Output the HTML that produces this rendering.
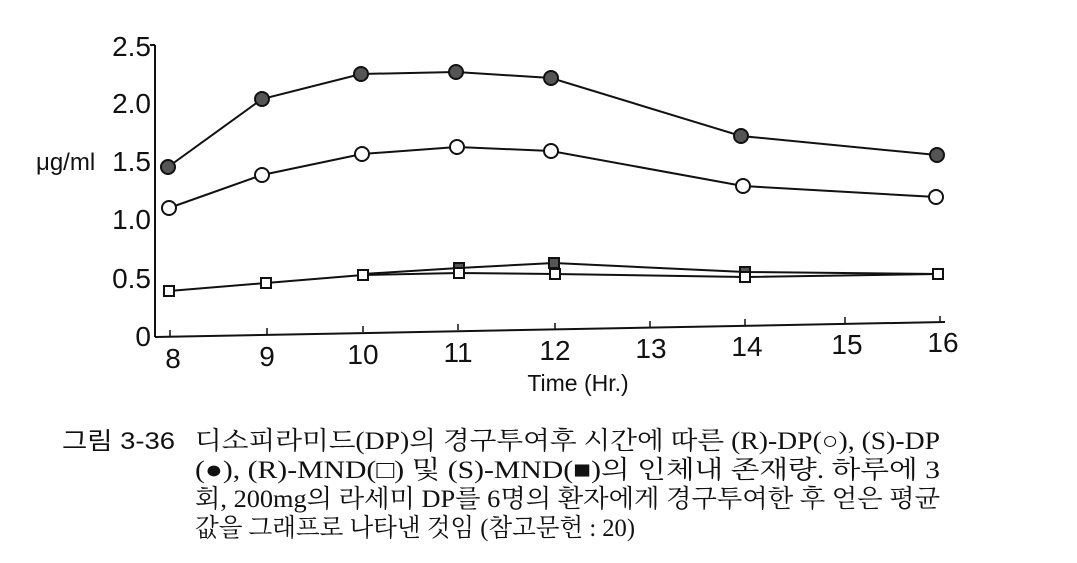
<!DOCTYPE html>
<html><head><meta charset="utf-8"><style>
body{margin:0;background:#fff;width:1077px;height:563px;overflow:hidden;position:relative}
</style></head><body>
<svg width="1077" height="563" style="position:absolute;left:0;top:0">
<g font-family="Liberation Sans, DejaVu Sans, sans-serif" font-size="28" fill="#111" text-anchor="end">
<text x="151" y="56">2.5</text><text x="151" y="113">2.0</text><text x="151" y="171">1.5</text>
<text x="151" y="229">1.0</text><text x="151" y="288">0.5</text><text x="151" y="346">0</text>
</g>
<text x="36" y="170" font-family="Liberation Sans, sans-serif" font-size="24" fill="#111">μg/ml</text>
<g font-family="Liberation Sans, DejaVu Sans, sans-serif" font-size="28" fill="#111" text-anchor="middle">
<text x="173" y="368">8</text><text x="267" y="366">9</text><text x="363" y="364">10</text><text x="458" y="362">11</text><text x="555" y="360">12</text><text x="651" y="358">13</text><text x="747" y="356">14</text><text x="847" y="354">15</text><text x="943" y="352">16</text>
</g>
<text x="578" y="391" font-family="Liberation Sans, sans-serif" font-size="23" fill="#111" text-anchor="middle">Time (Hr.)</text>
<g stroke="#111" stroke-width="2" fill="none">
<line x1="155" y1="45" x2="155" y2="337"/>
<line x1="155" y1="337" x2="945" y2="322"/>
<line x1="150" y1="45" x2="155" y2="45"/>
<g stroke-width="1.5"><line x1="170" y1="336" x2="170" y2="330"/><line x1="267" y1="334" x2="267" y2="328"/><line x1="363" y1="332" x2="363" y2="326"/><line x1="458" y1="330" x2="458" y2="324"/><line x1="555" y1="329" x2="555" y2="323"/><line x1="650" y1="327" x2="650" y2="321"/><line x1="745" y1="325" x2="745" y2="319"/><line x1="845" y1="323" x2="845" y2="317"/><line x1="940" y1="322" x2="940" y2="316"/></g>
<polyline points="168,167 262,99 361,74 456,72 551,78 741,136 937,155"/>
<polyline points="169,208 262,175 362,154 457,147 551,151 743,186 936,197"/>
<polyline points="169,291 266,283 363,275 459,273 555,274 745,277 938,274"/>
<polyline points="363,274 459,268 554,263 745,272 938,274"/>
</g>
<g stroke="#111" stroke-width="2">
<g fill="#555"><circle cx="168" cy="167" r="7"/><circle cx="262" cy="99" r="7"/><circle cx="361" cy="74" r="7"/><circle cx="456" cy="72" r="7"/><circle cx="551" cy="78" r="7"/><circle cx="741" cy="136" r="7"/><circle cx="937" cy="155" r="7"/></g>
<g fill="#fff"><circle cx="169" cy="208" r="7"/><circle cx="262" cy="175" r="7"/><circle cx="362" cy="154" r="7"/><circle cx="457" cy="147" r="7"/><circle cx="551" cy="151" r="7"/><circle cx="743" cy="186" r="7"/><circle cx="936" cy="197" r="7"/></g>
<g fill="#555"><rect x="454" y="263" width="10" height="10"/><rect x="549" y="258" width="10" height="10"/><rect x="740" y="267" width="10" height="10"/></g>
<g fill="#fff"><rect x="164" y="286" width="10" height="10"/><rect x="261" y="278" width="10" height="10"/><rect x="358" y="270" width="10" height="10"/><rect x="454" y="268" width="10" height="10"/><rect x="550" y="269" width="10" height="10"/><rect x="740" y="272" width="10" height="10"/><rect x="933" y="269" width="10" height="10"/></g>
</g>
<text x="62" y="449" font-family="Liberation Sans, Noto Sans CJK KR, sans-serif" font-size="24" fill="#111" textLength="113" lengthAdjust="spacingAndGlyphs">그림 3-36</text>
<g font-family="Liberation Serif, Noto Serif CJK SC, Noto Sans CJK KR, serif" font-size="25" fill="#111" lengthAdjust="spacingAndGlyphs">
<text x="195" y="449" textLength="745" lengthAdjust="spacingAndGlyphs">디소피라미드(DP)의 경구투여후 시간에 따른 (R)-DP(○), (S)-DP</text>
<text x="195" y="478" textLength="745" lengthAdjust="spacingAndGlyphs">(●), (R)-MND(□) 및 (S)-MND(■)의 인체내 존재량. 하루에 3</text>
<text x="195" y="507" textLength="745" lengthAdjust="spacingAndGlyphs">회, 200mg의 라세미 DP를 6명의 환자에게 경구투여한 후 얻은 평균</text>
<text x="195" y="536" textLength="440" lengthAdjust="spacingAndGlyphs">값을 그래프로 나타낸 것임 (참고문헌 : 20)</text>
</g>
</svg>
</body></html>
